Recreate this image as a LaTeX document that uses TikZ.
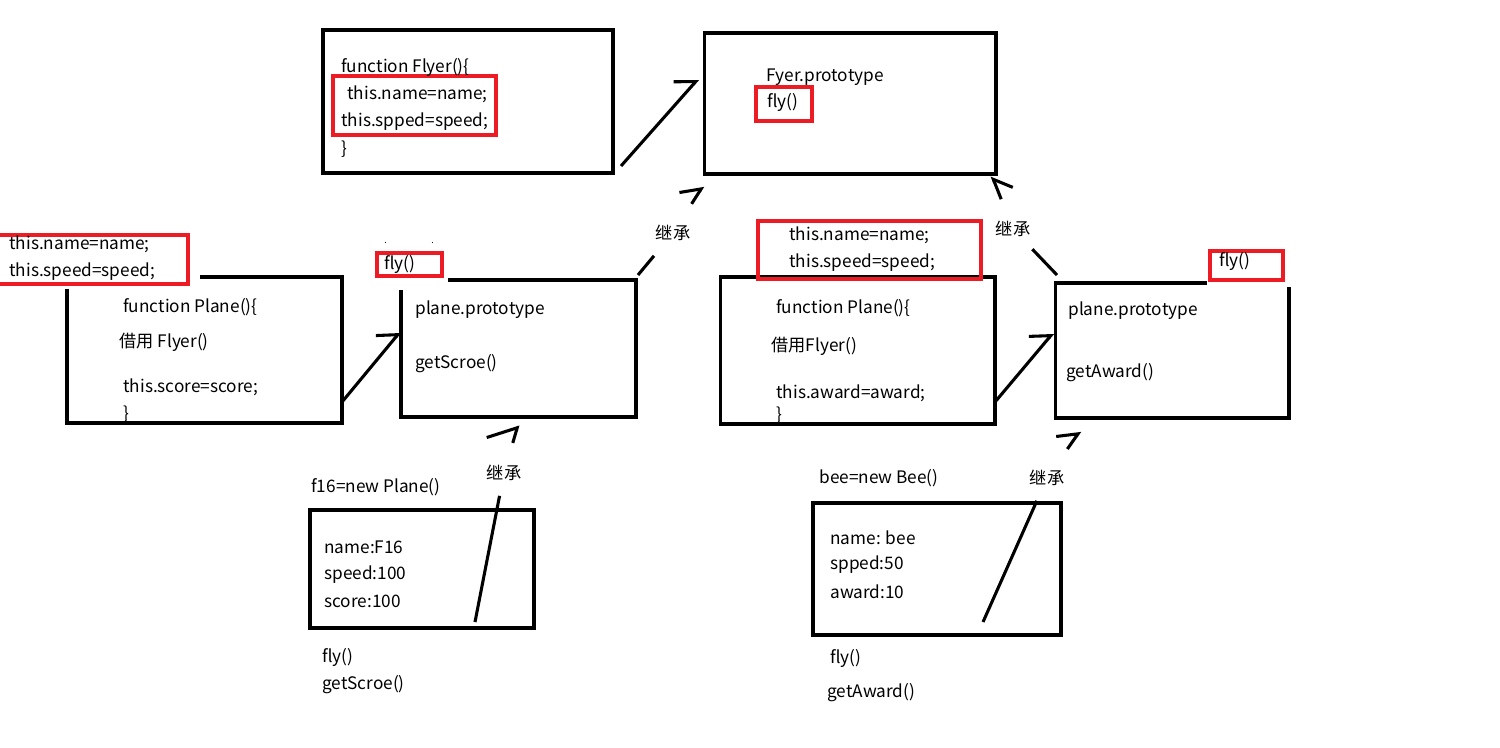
\documentclass[tikz,border=0pt]{standalone}
\usepackage{fontspec}
\setmainfont{Noto Sans CJK SC}
\usetikzlibrary{arrows.meta,calc}
\definecolor{paintred}{RGB}{237,28,36}
\begin{document}
\begin{tikzpicture}[x=0.02cm,y=-0.02cm,
  box/.style={rectangle,draw,line width=1.75pt,outer sep=0pt,inner sep=0pt},
  hole/.style={rectangle,outer sep=0pt,inner sep=0pt},
  edge/.style={line width=1.75pt},
  redbox/.style={rectangle,draw=paintred,line width=1.75pt,outer sep=0pt,inner sep=0pt},
  code/.style={anchor=west,inner sep=0pt,yshift=-1pt,font=\fontsize{9.8}{12}\selectfont},
  inh/.style={line width=1.75pt,-{Straight Barb[left,angle=96:0.44cm]}},
  inhr/.style={line width=1.75pt,-{Straight Barb[right,angle=92:0.42cm]}},
  inhlbl/.style={font=\fontsize{9.8}{12}\selectfont,inner xsep=1pt,minimum height=0.9cm}
]
\useasboundingbox (0,0) rectangle (1500,747);

% Flyer constructor and its prototype
\node[box,minimum width=5.8cm,minimum height=2.86cm] (flyer) at (468,101.5) {};
\node[redbox,minimum width=3.26cm,minimum height=1.18cm] (flyer_own) at (414.5,105.5) {};
\node[code] (flyer_d1) at (341,66) {function Flyer()\{};
\node[code] (flyer_d2) at (347,93) {this.name=name;};
\node[code] (flyer_d3) at (341,120) {this.spped=speed;};
\node[code] (flyer_d4) at (341,147) {\}};

\node[box,minimum width=5.84cm,minimum height=2.82cm] (fproto) at (850,103.5) {};
\node[redbox,minimum width=1.12cm,minimum height=0.68cm] (fproto_fly) at (784,104) {};
\node[code] (fproto_d1) at (766,75) {Fyer.prototype};
\node[code] (fproto_d2) at (767,101) {fly()};

\coordinate (a0) at (621,166);
\coordinate (a1) at (698,79);
\draw[inh] (a0) -- (a1);

% Plane, left
\node[hole,minimum width=5.5cm,minimum height=2.92cm] (lctor) at (204.5,350) {};
\draw[edge] ($(lctor.north west)+(0,12)$) -- (lctor.south west) -- (lctor.south east)
  -- (lctor.north east) -- ($(lctor.north west)+(133,0)$);
\node[redbox,minimum width=3.8cm,minimum height=0.98cm] (lctor_own) at (93,259.5) {};
\node[code] (lctor_r1) at (9,243) {this.name=name;};
\node[code] (lctor_r2) at (9,270) {this.speed=speed;};
\node[code] (lctor_d1) at (123,305) {function Plane()\{};
\node[code] (lctor_d2) at (119,341) {借用 Flyer()};
\node[code] (lctor_d3) at (123,386) {this.score=score;};
\node[code] (lctor_d4) at (123,412) {\}};

\node[hole,minimum width=4.7cm,minimum height=2.74cm] (lproto) at (518.5,348.5) {};
\draw[edge] ($(lproto.north west)+(0,10)$) -- (lproto.south west) -- (lproto.south east)
  -- (lproto.north east) -- ($(lproto.north west)+(47,0)$);
\node[redbox,minimum width=1.3cm,minimum height=0.46cm] (lproto_fly) at (409.5,264.5) {};
\node[code] (lproto_r1) at (384,263) {fly()};
\node[code,font=\tiny] (lproto_dot1) at (384,241) {.};
\node[code,font=\tiny] (lproto_dot2) at (431,241) {.};
\node[code] (lproto_d1) at (415,308) {plane.prototype};
\node[code] (lproto_d2) at (415,362) {getScroe()};

\coordinate (d0) at (342,402);
\coordinate (d1) at (400,332);
\draw[inh] (d0) -- (d1);

\coordinate (b0) at (638,275);
\node[inhlbl] (lblB) at (673,233) {继承};
\coordinate (b1) at (703,186);
\draw[edge] (b0) -- (lblB);
\draw[inh,shorten <=0.15cm] (lblB) -- (b1);

% Plane, right
\node[box,minimum width=5.5cm,minimum height=2.94cm] (rctor) at (857.5,350.5) {};
\node[redbox,minimum width=4.46cm,minimum height=1.16cm] (rctor_own) at (869.5,250) {};
\node[code] (rctor_r1) at (789,234) {this.name=name;};
\node[code] (rctor_r2) at (789,261) {this.speed=speed;};
\node[code] (rctor_d1) at (776,306) {function Plane()\{};
\node[code] (rctor_d2) at (771,345) {借用Flyer()};
\node[code] (rctor_d3) at (776,392) {this.award=award;};
\node[code] (rctor_d4) at (776,413) {\}};

\node[hole,minimum width=4.68cm,minimum height=2.7cm] (rproto) at (1172,350.5) {};
\draw[edge] ($(rproto.north east)+(0,4)$) -- (rproto.south east) -- (rproto.south west)
  -- (rproto.north west) -- ($(rproto.north west)+(152,0)$);
\node[redbox,minimum width=1.46cm,minimum height=0.58cm] (rproto_fly) at (1246.5,265.5) {};
\node[code] (rproto_r1) at (1219,260) {fly()};
\node[code] (rproto_d1) at (1068,309) {plane.prototype};
\node[code] (rproto_d2) at (1066,371) {getAward()};

\coordinate (e0) at (995,402);
\coordinate (e1) at (1053,333);
\draw[inh] (e0) -- (e1);

\coordinate (c0) at (1057,275);
\node[inhlbl] (lblC) at (1013,229) {继承};
\coordinate (c1) at (992,176);
\draw[edge] (c0) -- (lblC);
\draw[inhr,shorten <=0.15cm] (lblC) -- (c1);

% f16
\node[code] (f16_t) at (311,485) {f16=new Plane()};
\node[box,minimum width=4.48cm,minimum height=2.36cm] (f16) at (422,569) {};
\node[code] (f16_d1) at (324,546) {name:F16};
\node[code] (f16_d2) at (324,573) {speed:100};
\node[code] (f16_d3) at (324,600) {score:100};
\node[code] (f16_d4) at (322,656) {fly()};
\node[code] (f16_d5) at (322,683) {getScroe()};

\coordinate (f0) at (475,622);
\node[inhlbl] (lblF) at (504,473) {继承};
\coordinate (f1) at (518,425);
\draw[edge] (f0) -- (lblF);
\draw[line width=1.75pt,-{Straight Barb[left,angle=112:0.64cm]},shorten <=0.15cm] (lblF) -- (f1);

% bee
\node[code] (bee_t) at (819,476) {bee=new Bee()};
\node[box,minimum width=4.96cm,minimum height=2.64cm] (bee) at (937,569) {};
\node[code] (bee_d1) at (830,536) {name: bee};
\node[code] (bee_d2) at (830,563) {spped:50};
\node[code] (bee_d3) at (830,590) {award:10};
\node[code] (bee_d4) at (830,657) {fly()};
\node[code] (bee_d5) at (827,691) {getAward()};

\coordinate (g0) at (983,622);
\node[inhlbl] (lblG) at (1047,478) {继承};
\coordinate (g1) at (1080,431);
\draw[edge] (g0) -- (lblG);
\draw[inh,shorten <=0.15cm] (lblG) -- (g1);

\end{tikzpicture}
\end{document}
